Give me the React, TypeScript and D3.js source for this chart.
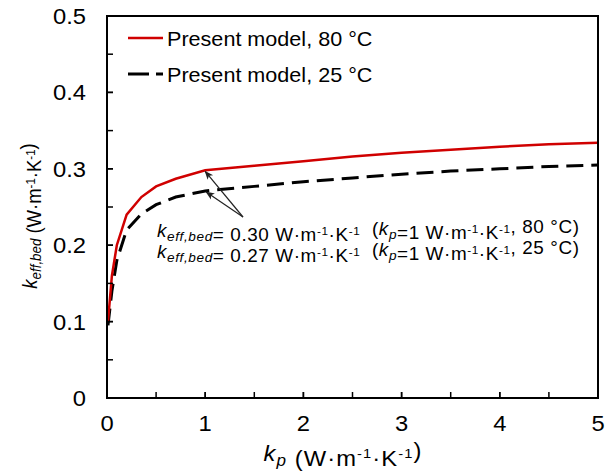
import React from "react";
import * as d3 from "d3";

// values
const kp = [0.01, 0.05, 0.1, 0.2, 0.35, 0.5, 0.7, 1, 1.5, 2, 2.5, 3, 3.5, 4, 4.5, 5];
const keff80 = [0.1, 0.16, 0.2, 0.24, 0.263, 0.277, 0.287, 0.298, 0.304, 0.31, 0.316, 0.321, 0.325, 0.329, 0.332, 0.334];
const keff25 = [0.095, 0.14, 0.18, 0.22, 0.241, 0.253, 0.263, 0.271, 0.277, 0.283, 0.288, 0.293, 0.297, 0.3, 0.303, 0.305];
const xTicks = [0, 1, 2, 3, 4, 5];
const yTicks = [0, 0.1, 0.2, 0.3, 0.4, 0.5];
const legendLabels = ["Present model, 80 °C", "Present model, 25 °C"];

const W = 611;
const H = 471;
const m = { left: 107, right: 13, top: 16, bottom: 73 };
const font = "'Liberation Sans', Arial, sans-serif";
const SX = 1.08; // the original text is a bit wide

// text drawn slightly stretched sideways, anchored at (x,y)
function T({ x, y, anchor = "start", size, ls = 0, children }: any) {
  return (
    <text
      transform={`translate(${x},${y}) scale(${SX},1)`}
      textAnchor={anchor}
      fontSize={size}
      letterSpacing={ls}
    >
      {children}
    </text>
  );
}

function Unit() {
  // W·m-1·K-1
  return (
    <>
      <tspan>W·m</tspan>
      <tspan fontSize="0.62em" dy="-0.55em">-1</tspan>
      <tspan dy="0.341em">·K</tspan>
      <tspan fontSize="0.62em" dy="-0.55em">-1</tspan>
      <tspan dy="0.341em"></tspan>
    </>
  );
}

function Sub({ base, sub }: { base: string; sub: string }) {
  return (
    <>
      <tspan fontStyle="italic">{base}</tspan>
      <tspan fontStyle="italic" fontSize="0.72em" dy="0.3em">{sub}</tspan>
      <tspan dy="-0.216em"></tspan>
    </>
  );
}

export default function App() {
  const x = d3.scaleLinear().domain([0, 5]).range([m.left, W - m.right]);
  const y = d3.scaleLinear().domain([0, 0.5]).range([H - m.bottom, m.top]);

  const line = d3
    .line<number>()
    .x((d, i) => x(kp[i]))
    .y(d => y(d));

  const xMinor = d3.range(0.5, 5, 0.5);
  const yMinor = d3.range(0.05, 0.5, 0.05);
  const x0 = x(0);
  const y0 = y(0);

  const iOne = kp.indexOf(1);
  const tail = [243, 217];

  return (
    <svg width={W} height={H} style={{ position: "absolute", left: 0, top: 0, background: "#fff" }} fontFamily={font}>
      <defs>
        <marker id="ah" viewBox="0 0 10 10" refX="9" refY="5" markerWidth="9" markerHeight="9" orient="auto" markerUnits="userSpaceOnUse">
          <path d="M0,1 L10,5 L0,9 L2.5,5 Z" fill="#222" />
        </marker>
      </defs>

      {/* curves */}
      <path d={line(keff25) || ""} fill="none" stroke="#000" strokeWidth={3} strokeDasharray="17 8" />
      <path d={line(keff80) || ""} fill="none" stroke="#d00000" strokeWidth={2.5} />

      {/* frame */}
      <rect x={x0} y={m.top} width={x(5) - x0} height={y0 - m.top} fill="none" stroke="#000" strokeWidth={2} />

      {/* ticks */}
      {xTicks.concat(xMinor).map((t, i) => (
        <line key={"xt" + i} x1={x(t)} x2={x(t)} y1={y0} y2={y0 - 6} stroke="#000" strokeWidth={1.5} />
      ))}
      {yTicks.concat(yMinor).map((t, i) => (
        <line key={"yt" + i} x1={x0} x2={x0 + 6} y1={y(t)} y2={y(t)} stroke="#000" strokeWidth={1.5} />
      ))}

      {xTicks.map(t => (
        <T key={"xl" + t} x={x(t)} y={y0 + 33} anchor="middle" size={22}>{t}</T>
      ))}
      {yTicks.map(t => (
        <T key={"yl" + t} x={x0 - 21} y={y(t) + 8} anchor="end" size={22}>{d3.format("")(t)}</T>
      ))}

      {/* axis titles */}
      <T x={343} y={461} anchor="middle" size={22} ls={1}>
        <Sub base="k" sub="p" />
        <tspan> (</tspan>
        <Unit />
        <tspan>)</tspan>
      </T>
      <text transform={`translate(37,216) rotate(-90) scale(1,${SX})`} textAnchor="middle" fontSize={18.5}>
        <Sub base="k" sub="eff,bed" />
        <tspan> (</tspan>
        <Unit />
        <tspan>)</tspan>
      </text>

      {/* legend */}
      <line x1={128} x2={163} y1={38} y2={38} stroke="#d00000" strokeWidth={2.5} />
      <T x={167} y={46} size={20}>{legendLabels[0]}</T>
      <line x1={128} x2={163} y1={74} y2={74} stroke="#000" strokeWidth={3} strokeDasharray="21 7 7" />
      <T x={167} y={82} size={20}>{legendLabels[1]}</T>

      {/* annotation arrows */}
      <line x1={tail[0]} y1={tail[1]} x2={x(1)} y2={y(keff80[iOne]) + 1} stroke="#222" strokeWidth={1.2} markerEnd="url(#ah)" />
      <line x1={tail[0]} y1={tail[1]} x2={x(1) + 1} y2={y(keff25[iOne]) + 1} stroke="#222" strokeWidth={1.2} markerEnd="url(#ah)" />

      {[
        { v: keff80[iOne], lbl: "80 °C", yy: 237 },
        { v: keff25[iOne], lbl: "25 °C", yy: 258 },
      ].map(r => (
        <T key={r.lbl} x={157} y={r.yy} size={17.5} ls={0.55}>
          <Sub base="k" sub="eff,bed" />
          <tspan>= {r.v.toFixed(2)} </tspan>
          <Unit />
          <tspan>{"\u00a0\u00a0("}</tspan>
          <Sub base="k" sub="p" />
          <tspan>=1 </tspan>
          <Unit />
          <tspan>, {r.lbl})</tspan>
        </T>
      ))}
    </svg>
  );
}
